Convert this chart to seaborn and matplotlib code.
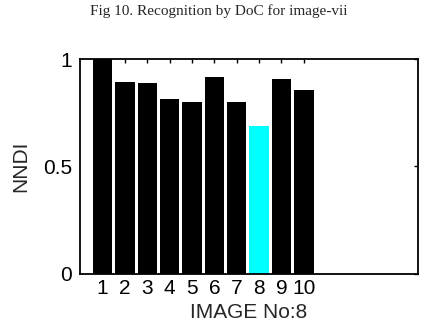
import matplotlib
matplotlib.use('Agg')
import matplotlib.pyplot as plt
import seaborn as sns
import pandas as pd

# values
images = [1, 2, 3, 4, 5, 6, 7, 8, 9, 10]
nndi = [1.0, 0.894, 0.887, 0.812, 0.80, 0.915, 0.799, 0.69, 0.908, 0.857]
query = 8

df = pd.DataFrame({'image': images, 'nndi': nndi})
palette = {i: ('#00ffff' if i == query else 'black') for i in images}

sns.set_style('white')
plt.rcParams['font.family'] = ['Liberation Sans', 'DejaVu Sans']

fig = plt.figure(figsize=(4.38, 3.26), dpi=100)
ax = fig.add_axes([0.183, 0.160, 0.771, 0.659])

sns.barplot(data=df, x='image', y='nndi', hue='image', palette=palette,
            native_scale=True, width=0.87, legend=False, ax=ax,
            edgecolor='none', linewidth=0, saturation=1)

ax.set_xlim(0, 15.1)
ax.set_ylim(0, 1)
ax.set_xticks(images)
ax.set_xticklabels([str(i) for i in images])
ax.set_yticks([0, 0.5, 1])
ax.set_yticklabels(['0', '0.5', '1'])
ax.tick_params(direction='in', top=True, right=True, length=3, width=1,
               labelsize=15, pad=6, colors='black')
ax.tick_params(axis='x', pad=4)
for s in ax.spines.values():
    s.set_color('black')
    s.set_linewidth(1.3)

ax.set_xlabel('IMAGE No:8', fontsize=15, labelpad=3)
ax.set_ylabel('NNDI', fontsize=15, labelpad=9)

fig.text(0.5, 0.965, 'Fig 10. Recognition by DoC for image-vii',
         ha='center', va='center', fontsize=11, family='Liberation Serif')

fig.savefig('out.png', dpi=100)
